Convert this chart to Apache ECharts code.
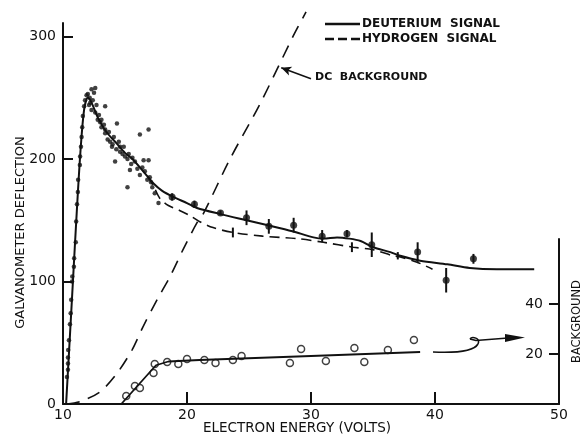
<!DOCTYPE html>
<html>
<head>
<meta charset="utf-8">
<script src="https://cdn.jsdelivr.net/npm/echarts@6/dist/echarts.min.js"></script>
<style>
  html, body { margin: 0; padding: 0; background: #fff; }
  #chart { width: 580px; height: 434px; }
</style>
</head>
<body>
<div id="chart"></div>
<script>
// electron energy (V) vs galvanometer deflection
const xTicks = [10, 20, 30, 40, 50];
const leftTicks = [0, 100, 200, 300];
const rightTicks = [20, 40];

// raw deuterium points (small dots) near threshold and peak
const rawDots = [
  [10.32, 22], [10.40, 28], [10.40, 33], [10.40, 38], [10.42, 44], [10.48, 52], [10.56, 65],
  [10.62, 74], [10.66, 85], [10.73, 100], [10.75, 104], [10.88, 112], [10.9, 119], [11.03, 132],
  [11.06, 149], [11.13, 163], [11.2, 173], [11.22, 183], [11.36, 195], [11.38, 202], [11.45, 210],
  [11.5, 218], [11.55, 226], [11.6, 235], [11.7, 243], [11.78, 248],
  [11.9, 252], [12.0, 253], [12.15, 250], [12.3, 257], [12.5, 254], [12.6, 258], [12.2, 246],
  [12.3, 240], [12.1, 244], [12.4, 248], [12.6, 238], [12.7, 244], [12.8, 232], [12.9, 236],
  [13.0, 230], [13.1, 226], [13.1, 232], [13.3, 228], [13.4, 221], [13.4, 243], [13.4, 224],
  [13.6, 216], [13.7, 222], [13.8, 214], [13.95, 210], [14.0, 212], [14.1, 218], [14.35, 229],
  [14.3, 208], [14.6, 206], [14.5, 214], [14.6, 210], [14.8, 204], [14.9, 210], [15.0, 202],
  [14.2, 198], [15.2, 200], [15.3, 204], [15.4, 191], [15.5, 196], [15.6, 201], [15.8, 198],
  [16.0, 192], [16.2, 220], [16.9, 224], [16.2, 187], [16.4, 193], [16.5, 199], [16.6, 190],
  [16.9, 199], [16.8, 183], [17.0, 185], [17.1, 181], [15.2, 177], [17.2, 177], [17.4, 172],
  [17.7, 164]
];

// deuterium points with error bars: [volts, deflection, half error]
const deutErr = [
  [18.8, 169, 3], [20.6, 163, 3], [22.7, 156, 2], [24.8, 152, 6], [26.6, 145, 6], [28.6, 146, 6],
  [30.9, 137, 5], [32.9, 139, 3], [34.9, 130, 10], [38.6, 124, 8], [40.9, 101, 10], [43.1, 118.5, 4]
];

// small error marks on hydrogen curve
const hydErr = [[23.7, 140, 4], [33.3, 128, 4], [37.0, 121, 3]];

const deutCurve = [
  [10.25, 0], [10.5, 45], [10.8, 100], [11.1, 155], [11.4, 205], [11.7, 240], [12.0, 250],
  [12.3, 246], [12.8, 234], [13.5, 222], [14.3, 213], [15.0, 205], [15.6, 200], [16.3, 192],
  [16.8, 186], [17.3, 180], [18.0, 174], [18.9, 169], [20.0, 164], [20.8, 160], [22.7, 155],
  [24.8, 150], [26.7, 145.5], [28.5, 141], [30.2, 136], [31.0, 135], [32.1, 136], [33.1, 135],
  [34.0, 133], [35.0, 128], [36.4, 124], [37.2, 121], [38.8, 117], [41.0, 114], [42.8, 111],
  [45.0, 110], [48.0, 110]
];

const hydCurve = [
  [16.8, 186], [17.3, 178], [17.8, 168], [18.5, 162], [19.4, 158], [20.2, 154], [21.0, 149],
  [22.1, 144], [23.7, 140], [26.1, 137], [28.9, 135], [31.0, 132], [33.4, 128], [35.0, 126],
  [36.6, 121], [37.2, 120], [38.5, 116], [39.8, 110]
];

const dcCurve = [
  [10.3, 0], [11.4, 2], [13.0, 10], [14.35, 25], [15.56, 44], [16.45, 63], [17.58, 85],
  [18.63, 104], [19.68, 126], [20.81, 148], [21.3, 155], [23.47, 200], [25.89, 245],
  [28.55, 300], [29.6, 320]
];

// background (right axis) open circles and fit
const bgDots = [
  [15.1, 3.2], [15.8, 7.2], [16.2, 6.4], [17.3, 12.4], [17.4, 16], [18.4, 16.8], [19.3, 16],
  [20.0, 18], [21.4, 17.6], [22.3, 16.4], [23.7, 17.6], [24.4, 19.2], [28.3, 16.4], [29.2, 22],
  [31.2, 17.2], [33.5, 22.4], [34.3, 16.8], [36.2, 21.6], [38.3, 25.6]
];
const bgFit = [[14.7, 0], [17.5, 15.5], [18.5, 17], [21.0, 17.6], [30.0, 19.2], [38.8, 20.8]];

const ink = '#111';
const font = 'DejaVu Sans';

function errorBars(params, api) {
  const x = api.value(0), y = api.value(1), e = api.value(2);
  const a = api.coord([x, y - e]);
  const b = api.coord([x, y + e]);
  return {
    type: 'line',
    shape: { x1: a[0], y1: a[1], x2: b[0], y2: b[1] },
    style: { stroke: ink, lineWidth: 2 }
  };
}

const chart = echarts.init(document.getElementById('chart'));
chart.setOption({
  animation: false,
  backgroundColor: '#fff',
  grid: [
    { left: 63, right: 21, top: 23, bottom: 30, containLabel: false, outerBoundsMode: 'none' },
    { left: 63, right: 21, top: 239, bottom: 30, containLabel: false, outerBoundsMode: 'none' }
  ],
  legend: {
    orient: 'vertical',
    left: 325,
    top: 18,
    padding: 0,
    itemWidth: 35,
    itemHeight: 2.5,
    itemGap: 3,
    data: [
      { name: 'DEUTERIUM  SIGNAL', icon: 'path://M0,0H35V2.5H0Z' },
      { name: 'HYDROGEN  SIGNAL', icon: 'path://M0,0H9V2.5H0Z M13,0H22V2.5H13Z M26,0H35V2.5H26Z' }
    ],
    itemStyle: { color: ink },
    textStyle: { color: ink, fontFamily: font, fontSize: 12, fontWeight: 'bold', padding: [0, 0, 0, -3] }
  },
  xAxis: [
    {
      gridIndex: 0, type: 'value', min: 10, max: 50, interval: 10,
      name: 'ELECTRON ENERGY (VOLTS)', nameLocation: 'middle', nameGap: 17, nameMoveOverlap: false,
      nameTextStyle: { color: ink, fontFamily: font, fontSize: 13.5, padding: [0, 28, 0, 0] },
      axisLine: { lineStyle: { color: ink, width: 2 } },
      axisTick: { inside: true, length: 12, customValues: [20, 30, 40], lineStyle: { color: ink, width: 2 } },
      axisLabel: { margin: 4, color: ink, fontFamily: font, fontSize: 14,
        customValues: xTicks },
      splitLine: { show: false }
    },
    { gridIndex: 1, type: 'value', min: 10, max: 50, show: false }
  ],
  yAxis: [
    {
      gridIndex: 0, type: 'value', min: 0, max: 311, interval: 100,
      name: 'GALVANOMETER DEFLECTION', nameLocation: 'middle', nameGap: 36, nameRotate: 90,
      nameMoveOverlap: false,
      nameTextStyle: { color: ink, fontFamily: font, fontSize: 13, padding: [0, 38, 0, 0] },
      axisLine: { show: true, lineStyle: { color: ink, width: 2 } },
      axisTick: { inside: true, length: 10, customValues: leftTicks, lineStyle: { color: ink, width: 2 } },
      axisLabel: { margin: 7, color: ink, fontFamily: font, fontSize: 14, customValues: leftTicks },
      splitLine: { show: false }
    },
    {
      gridIndex: 1, type: 'value', min: 0, max: 66, position: 'right',
      name: 'BACKGROUND', nameLocation: 'middle', nameGap: 12, nameRotate: 90,
      nameMoveOverlap: false,
      nameTextStyle: { color: ink, fontFamily: font, fontSize: 11.5 },
      axisLine: { show: true, lineStyle: { color: ink, width: 2 } },
      axisTick: { inside: true, length: 10, customValues: rightTicks, lineStyle: { color: ink, width: 2 } },
      axisLabel: { inside: true, margin: 16, color: ink, fontFamily: font, fontSize: 14,
        customValues: rightTicks },
      splitLine: { show: false }
    }
  ],
  series: [
    {
      name: 'DC BACKGROUND', type: 'line', xAxisIndex: 0, yAxisIndex: 0,
      data: dcCurve, smooth: 0.3, symbol: 'none', clip: false,
      lineStyle: { color: ink, width: 1.6, type: [13, 9] },
      markLine: {
        silent: true, symbol: ['none', 'arrow'], symbolSize: [7, 10],
        lineStyle: { color: ink, width: 1.5, type: 'solid' },
        label: { show: false },
        data: [[{ coord: [30.0, 265.5] }, { coord: [27.6, 274.5] }]]
      }
    },
    {
      name: 'DEUTERIUM  SIGNAL', type: 'line', xAxisIndex: 0, yAxisIndex: 0,
      data: deutCurve, smooth: 0.3, symbol: 'none',
      itemStyle: { color: ink },
      lineStyle: { color: ink, width: 2 }
    },
    {
      name: 'HYDROGEN  SIGNAL', type: 'line', xAxisIndex: 0, yAxisIndex: 0,
      data: hydCurve, smooth: 0.3, symbol: 'none',
      itemStyle: { color: ink },
      lineStyle: { color: ink, width: 1.6, type: [10, 6] }
    },
    {
      name: 'raw', type: 'scatter', xAxisIndex: 0, yAxisIndex: 0,
      data: rawDots, symbolSize: 4.5, itemStyle: { color: ink }
    },
    {
      name: 'deutErrBars', type: 'custom', xAxisIndex: 0, yAxisIndex: 0,
      data: deutErr, encode: { x: 0, y: 1 }, renderItem: errorBars
    },
    {
      name: 'deutPts', type: 'scatter', xAxisIndex: 0, yAxisIndex: 0,
      data: deutErr.map(d => [d[0], d[1]]), symbolSize: 7, itemStyle: { color: ink }
    },
    {
      name: 'hydErrBars', type: 'custom', xAxisIndex: 0, yAxisIndex: 0,
      data: hydErr, encode: { x: 0, y: 1 }, renderItem: errorBars
    },
    {
      name: 'bgFit', type: 'line', xAxisIndex: 1, yAxisIndex: 1,
      data: bgFit, symbol: 'none', lineStyle: { color: ink, width: 1.8 }
    },
    {
      name: 'bgDots', type: 'scatter', xAxisIndex: 1, yAxisIndex: 1,
      data: bgDots, symbol: 'circle', symbolSize: 7,
      itemStyle: { color: '#fff', borderColor: ink, borderWidth: 1.5 }
    }
  ],
  graphic: [
    {
      type: 'text', x: 315, y: 72,
      style: { text: 'DC  BACKGROUND', fill: ink, font: 'bold 11px "DejaVu Sans"' }
    },
    {
      type: 'bezierCurve',
      shape: { x1: 433, y1: 352, cpx1: 455, cpy1: 353, cpx2: 474, cpy2: 351, x2: 478, y2: 344 },
      style: { stroke: ink, lineWidth: 1.6, fill: null }
    },
    {
      type: 'bezierCurve',
      shape: { x1: 478, y1: 344, cpx1: 481, cpy1: 338, cpx2: 472, cpy2: 336, x2: 470, y2: 339 },
      style: { stroke: ink, lineWidth: 1.6, fill: null }
    },
    {
      type: 'polyline',
      shape: { points: [[470, 339], [476, 340.5], [508, 338]] },
      style: { stroke: ink, lineWidth: 1.6, fill: null }
    },
    {
      type: 'polygon',
      shape: { points: [[505, 334], [525, 337.5], [505, 342]] },
      style: { fill: ink }
    }
  ]
});
</script>
</body>
</html>
